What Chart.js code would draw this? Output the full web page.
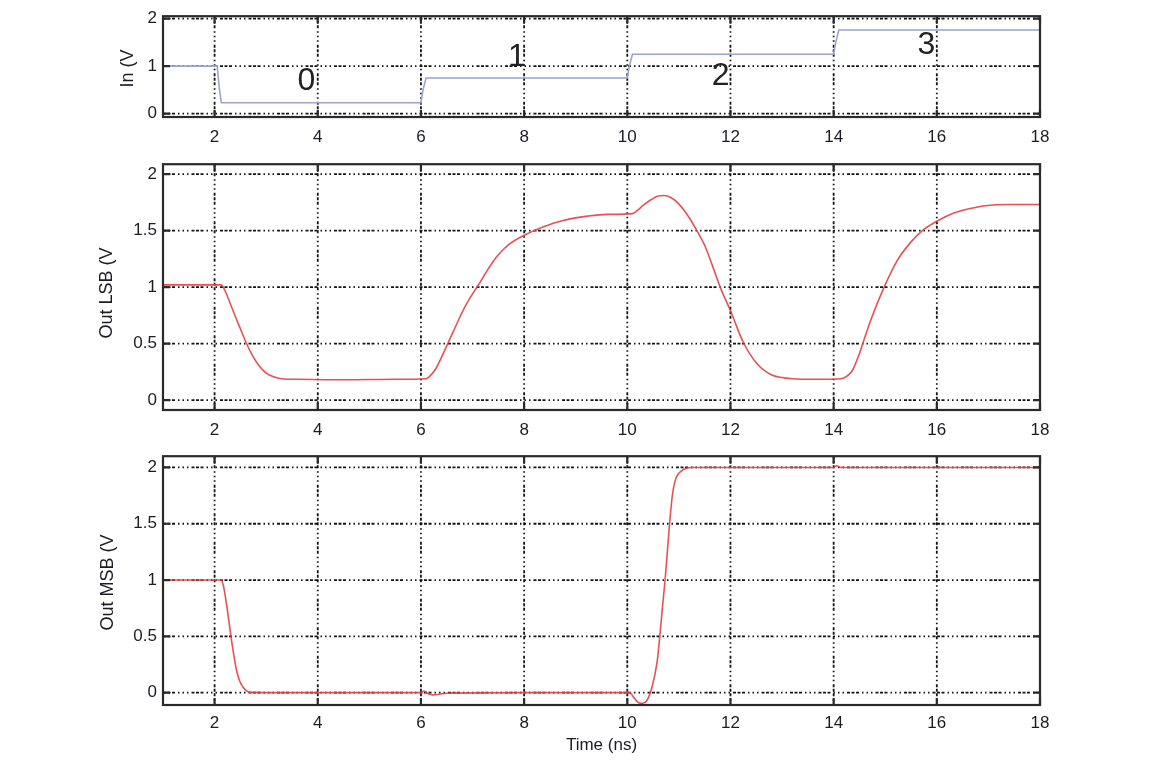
<!DOCTYPE html>
<html>
<head>
<meta charset="utf-8">
<script src="https://cdn.jsdelivr.net/npm/chart.js@4.4.1/dist/chart.umd.min.js"></script>
<style>
  html, body { margin: 0; padding: 0; background: #ffffff; }
  #wrap { position: relative; width: 1151px; height: 760px; overflow: hidden; }
  #wrap canvas { position: absolute; left: 0; }
</style>
</head>
<body>
<div id="wrap">
  <canvas id="cIn"  width="1151" height="148" style="top:0px"></canvas>
  <canvas id="cLsb" width="1151" height="292" style="top:148px"></canvas>
  <canvas id="cMsb" width="1151" height="320" style="top:440px"></canvas>
</div>
<script>
// ---- tick values ----
const timeTicks = [2, 4, 6, 8, 10, 12, 14, 16, 18];
const inTicks   = [0, 1, 2];
const outTicks  = [0, 0.5, 1, 1.5, 2];

// ---- input staircase (ns, V) ----
const inTime = [1, 2.05, 2.09, 2.13, 6.0, 6.04, 6.1, 10.0, 10.04, 10.1, 14.0, 14.04, 14.1, 18];
const inVolt = [1, 1, 0.55, 0.23, 0.23, 0.5, 0.75, 0.75, 1.0, 1.25, 1.25, 1.5, 1.76, 1.76];

// ---- code labels printed on the input trace ----
const codeLabels = ['0', '1', '2', '3'];
const codeTime   = [3.78, 7.86, 11.81, 15.8];
const codeVolt   = [0.68, 1.19, 0.78, 1.44];

// ---- LSB output (ns, V) ----
const lsbTime = [1, 2.13, 2.2, 2.29, 2.42, 2.52, 2.61, 2.74, 2.87, 3.0, 3.13, 3.3, 3.6, 4.5, 5.5, 6.1,
  6.17, 6.29, 6.4, 6.52, 6.63, 6.74, 6.87, 7.0, 7.13, 7.29, 7.42, 7.55, 7.7, 7.81, 8.03, 8.2, 8.39,
  8.6, 8.77, 9.0, 9.23, 9.61, 10.1, 10.2, 10.3, 10.45, 10.6, 10.72, 10.85, 10.97, 11.1, 11.22, 11.36,
  11.5, 11.65, 11.8, 12.01, 12.25, 12.52, 12.79, 13.0, 13.2, 13.6, 14.15, 14.25, 14.36, 14.49, 14.6,
  14.73, 14.96, 15.24, 15.5, 15.72, 15.99, 16.33, 16.6, 16.94, 17.4, 18];
const lsbVolt = [1.02, 1.02, 0.97, 0.87, 0.72, 0.61, 0.51, 0.39, 0.30, 0.24, 0.21, 0.19, 0.185, 0.18, 0.185, 0.19,
  0.21, 0.28, 0.38, 0.50, 0.61, 0.72, 0.84, 0.94, 1.03, 1.15, 1.24, 1.31, 1.375, 1.41, 1.465, 1.50, 1.535,
  1.57, 1.59, 1.612, 1.628, 1.643, 1.65, 1.68, 1.72, 1.77, 1.805, 1.81, 1.79, 1.75, 1.68, 1.60, 1.49,
  1.37, 1.19, 1.0, 0.78, 0.51, 0.32, 0.225, 0.2, 0.19, 0.185, 0.19, 0.21, 0.26, 0.4, 0.55,
  0.72, 0.98, 1.24, 1.40, 1.50, 1.58, 1.655, 1.69, 1.72, 1.73, 1.73];

// ---- MSB output (ns, V) ----
const msbTime = [1, 2.13, 2.17, 2.22, 2.27, 2.32, 2.37, 2.42, 2.48, 2.55, 2.62, 2.7, 3.5, 6.0, 6.06, 6.12,
  6.23, 6.35, 6.5, 8, 10.05, 10.12, 10.22, 10.3, 10.38, 10.48, 10.58, 10.63, 10.68, 10.74, 10.81, 10.87,
  10.92, 10.97, 11.05, 11.13, 11.25, 11.4, 14, 14.05, 14.15, 18];
const msbVolt = [1.0, 1.0, 0.95, 0.82, 0.66, 0.49, 0.34, 0.21, 0.11, 0.05, 0.015, 0.002, 0, 0, 0.015, -0.005,
  -0.02, -0.015, -0.005, 0, 0, -0.04, -0.09, -0.095, -0.07, 0.05, 0.28, 0.5, 0.75, 1.04, 1.45, 1.74,
  1.87, 1.93, 1.97, 1.99, 2.0, 2.0, 2.0, 2.015, 2.0, 2.0];

const TEXT = '#1c1c24';
const FONT = '"Liberation Sans", Arial, Helvetica, sans-serif';
const GRID_DASH = [3, 1.5, 3, 1.5, 3, 3, 1.5, 3, 1.5, 3, 1.5, 3];

// dashed grid, plot frame with inward ticks, rotated axis caption, code numerals
const framePlugin = {
  id: 'frame',
  beforeDatasetsDraw(chart) {
    const { ctx, chartArea: a, scales: { x, y } } = chart;
    ctx.save();
    ctx.strokeStyle = '#141414';
    ctx.lineWidth = 1.8;
    ctx.setLineDash(GRID_DASH);
    x.ticks.forEach(t => {
      const px = x.getPixelForValue(t.value);
      if (px > a.right - 3) return;
      ctx.beginPath(); ctx.moveTo(px, a.top); ctx.lineTo(px, a.bottom); ctx.stroke();
    });
    y.ticks.forEach(t => {
      const py = y.getPixelForValue(t.value);
      ctx.beginPath(); ctx.moveTo(a.left, py); ctx.lineTo(a.right, py); ctx.stroke();
    });
    ctx.restore();
  },
  afterDatasetsDraw(chart, args, opts) {
    const { ctx, chartArea: a, scales: { x, y } } = chart;
    ctx.save();
    ctx.strokeStyle = '#2a2a2a';
    ctx.lineWidth = 2.2;
    ctx.setLineDash([]);
    ctx.strokeRect(a.left, a.top, a.right - a.left, a.bottom - a.top);
    const tl = 7;
    x.ticks.forEach(t => {
      const px = x.getPixelForValue(t.value);
      ctx.beginPath();
      ctx.moveTo(px, a.top); ctx.lineTo(px, a.top + tl);
      ctx.moveTo(px, a.bottom); ctx.lineTo(px, a.bottom - tl);
      ctx.stroke();
    });
    y.ticks.forEach(t => {
      const py = y.getPixelForValue(t.value);
      ctx.beginPath();
      ctx.moveTo(a.left, py); ctx.lineTo(a.left + tl, py);
      ctx.moveTo(a.right, py); ctx.lineTo(a.right - tl, py);
      ctx.stroke();
    });
    // rotated y caption
    if (opts.caption) {
      ctx.fillStyle = TEXT;
      ctx.font = '18px ' + FONT;
      ctx.textAlign = 'center';
      ctx.textBaseline = 'middle';
      ctx.translate(opts.captionX, (a.top + a.bottom) / 2 + (opts.captionDy || 0));
      ctx.rotate(-Math.PI / 2);
      ctx.fillText(opts.caption, 0, 0);
      ctx.setTransform(1, 0, 0, 1, 0, 0);
    }
    // code numerals placed in data space
    if (opts.codes) {
      ctx.fillStyle = '#222';
      ctx.font = '32px ' + FONT;
      ctx.textAlign = 'center';
      ctx.textBaseline = 'middle';
      opts.codes.labels.forEach((s, i) => {
        ctx.fillText(s, x.getPixelForValue(opts.codes.t[i]), y.getPixelForValue(opts.codes.v[i]));
      });
    }
    ctx.restore();
  }
};

function toPoints(ts, vs) { return ts.map((t, i) => ({ x: t, y: vs[i] })); }

function makePanel(id, p) {
  return new Chart(document.getElementById(id), {
    type: 'line',
    data: {
      datasets: [{
        data: toPoints(p.time, p.volt),
        borderColor: p.color,
        borderWidth: p.width,
        pointRadius: 0,
        fill: false,
        tension: 0,
        cubicInterpolationMode: p.smooth ? 'monotone' : 'default'
      }]
    },
    options: {
      responsive: false,
      animation: false,
      devicePixelRatio: 1,
      layout: { padding: { top: p.padTop, right: 111, left: 0, bottom: 0 } },
      plugins: {
        legend: { display: false },
        tooltip: { enabled: false },
        frame: { caption: p.caption, captionX: p.captionX, captionDy: p.captionDy, codes: p.codes }
      },
      scales: {
        x: {
          type: 'linear', min: 1, max: 18,
          afterBuildTicks: s => { s.ticks = timeTicks.map(v => ({ value: v })); },
          afterFit: s => { s.height = p.xHeight; },
          grid: { display: false, drawTicks: false },
          border: { display: false },
          ticks: { font: { family: FONT, size: 17 }, color: TEXT, padding: p.xPad, maxRotation: 0, autoSkip: false },
          title: p.xTitle ? { display: true, text: p.xTitle, font: { family: FONT, size: 17 }, color: TEXT, padding: { top: 0, bottom: 4 } } : { display: false }
        },
        y: {
          type: 'linear', min: p.yMin, max: p.yMax,
          afterBuildTicks: s => { s.ticks = p.yTicks.map(v => ({ value: v })); },
          afterFit: s => { s.width = 163; },
          grid: { display: false, drawTicks: false },
          border: { display: false },
          ticks: { font: { family: FONT, size: 17 }, color: TEXT, padding: 6, callback: v => String(v) }
        }
      }
    },
    plugins: [framePlugin]
  });
}

makePanel('cIn', {
  time: inTime, volt: inVolt, color: '#9aa3d2', width: 1.6, smooth: false,
  padTop: 13, xHeight: 31, xPad: 10,
  yMin: -0.07, yMax: 2.05, yTicks: inTicks,
  caption: 'In (V', captionX: 128, captionDy: 2,
  codes: { labels: codeLabels, t: codeTime, v: codeVolt }
});

makePanel('cLsb', {
  time: lsbTime, volt: lsbVolt, color: 'rgba(228,62,66,0.9)', width: 1.6, smooth: true,
  padTop: 11, xHeight: 30, xPad: 10,
  yMin: -0.087, yMax: 2.087, yTicks: outTicks,
  caption: 'Out LSB (V', captionX: 107, captionDy: 6
});

makePanel('cMsb', {
  time: msbTime, volt: msbVolt, color: 'rgba(228,62,66,0.9)', width: 1.6, smooth: true,
  padTop: 12, xHeight: 55, xPad: 8, xTitle: 'Time (ns)',
  yMin: -0.11, yMax: 2.1, yTicks: outTicks,
  caption: 'Out MSB (V', captionX: 108, captionDy: 2
});
</script>
</body>
</html>
